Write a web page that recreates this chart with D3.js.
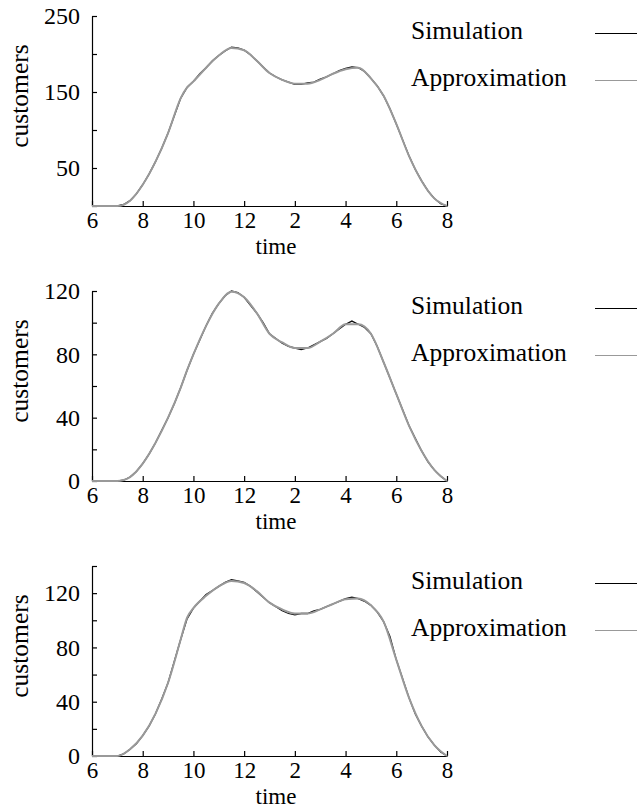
<!DOCTYPE html>
<html>
<head>
<meta charset="utf-8">
<script src="https://cdn.jsdelivr.net/npm/d3@7"></script>
<style>
  body { margin: 0; background: #fff; }
  text { font-family: "Liberation Serif", "DejaVu Serif", serif; fill: #000; }
</style>
</head>
<body>
<div id="chart"></div>
<script>
// HOURS OF THE DAY (6 = 6am ... 20 = 8pm)
var approxHours = [6, 7, 7.5, 8, 8.5, 9, 9.5, 9.75, 10, 10.5, 11, 11.5, 12, 12.5, 13, 13.5,
  14, 14.5, 15, 15.5, 16, 16.5, 17, 17.5, 18, 18.5, 19, 19.5, 20];

var simHours = [6, 6.25, 6.5, 6.75, 7, 7.25, 7.5, 7.75, 8, 8.25, 8.5, 8.75, 9, 9.25, 9.5, 9.75,
  10, 10.25, 10.5, 10.75, 11, 11.25, 11.5, 11.75, 12, 12.25, 12.5, 12.75, 13, 13.25, 13.5, 13.75,
  14, 14.25, 14.5, 14.75, 15, 15.25, 15.5, 15.75, 16, 16.25, 16.5, 16.75, 17, 17.25, 17.5, 17.75,
  18, 18.25, 18.5, 18.75, 19, 19.25, 19.5, 19.75, 20];

// X TICKS
var xTicks = [6, 8, 10, 12, 14, 16, 18, 20];
var xTickLabels = ["6", "8", "10", "12", "2", "4", "6", "8"];

// PANEL 1
var approx1 = [0, 0, 7, 28, 58, 96, 142, 156, 164, 182, 198, 208, 205, 191, 175, 166,
  161, 161, 166, 174, 180, 182, 168, 145, 108, 66, 33, 10, 0];
var sim1 = [0, 0, 0, 0, 0, 2, 7, 16, 28, 42, 58, 76, 96, 119, 142, 156,
  164, 174, 182, 191, 198, 204, 209, 208, 205, 199, 191, 183, 175, 170, 166, 163,
  160, 160, 162, 163, 167, 170, 174, 178, 181, 183, 182, 177, 168, 158, 145, 128,
  108, 87, 66, 48, 33, 20, 10, 3, 0];
var yTicks1 = [0, 50, 100, 150, 200, 250];
var yTickLabels1 = ["", "50", "", "150", "", "250"];

// PANEL 2
var approx2 = [0, 0, 2.5, 11, 24, 40, 59, 70, 80, 98, 112, 119.5, 116, 106, 93, 87.5,
  84, 84, 88, 93, 99, 99, 93, 75, 55, 35, 19, 7, 0];
var sim2 = [0, 0, 0, 0, 0, 0.5, 2.5, 6, 11, 17, 24, 32, 40, 49, 59, 70,
  80, 89, 98, 106, 112, 117, 120, 119, 116, 111, 106, 100, 93, 90, 87, 85,
  84, 83, 84, 86, 88, 90, 93, 96, 99, 101, 99, 97, 93, 85, 75, 65,
  55, 45, 35, 27, 19, 12, 7, 3, 0];
var yTicks2 = [0, 20, 40, 60, 80, 100, 120];
var yTickLabels2 = ["0", "", "40", "", "80", "", "120"];

// PANEL 3
var approx3 = [0, 0, 5, 15, 31, 54, 86, 102, 109, 118, 125, 129, 127.5, 121.5, 113, 108,
  105, 105, 108, 112, 115.5, 116, 111, 99, 71, 43, 22, 8, 0];
var sim3 = [0, 0, 0, 0, 0, 1.5, 5, 9, 15, 22, 31, 42, 54, 70, 86, 101,
  109, 114, 119, 122, 125, 128, 130, 129, 128, 125, 121, 117, 113, 110, 107, 105,
  104, 105, 105, 107, 108, 110, 112, 114, 116, 117, 116, 114, 111, 106, 99, 88,
  71, 57, 43, 31, 22, 14, 8, 3, 0];
var yTicks3 = [0, 20, 40, 60, 80, 100, 120, 140];
var yTickLabels3 = ["0", "", "40", "", "80", "", "120", ""];

var panels = [
  { top: 16, yMax: 250, approx: approx1, sim: sim1, ticks: yTicks1, labels: yTickLabels1 },
  { top: 291, yMax: 120, approx: approx2, sim: sim2, ticks: yTicks2, labels: yTickLabels2 },
  { top: 566, yMax: 140, approx: approx3, sim: sim3, ticks: yTicks3, labels: yTickLabels3 }
];

// SET UP CHART
var svgWidth = 637;
var svgHeight = 811;
var left = 92;
var chartWidth = 355;
var chartHeight = 190;

var svg = d3.select("#chart")
  .append("svg")
  .attr("width", svgWidth)
  .attr("height", svgHeight);

var xScale = d3.scaleLinear()
  .domain([6, 20])
  .range([0, chartWidth]);

panels.forEach(function(p) {

  var chartGroup = svg.append("g")
    .attr("transform", `translate(${left}, ${p.top})`);

  var yScale = d3.scaleLinear()
    .domain([0, p.yMax])
    .range([chartHeight, 0]);

  // AXES (ticks point inward)
  var bottomAxis = d3.axisBottom(xScale)
    .tickValues(xTicks)
    .tickFormat(function(d, i) { return xTickLabels[i]; })
    .tickSizeInner(-5)
    .tickSizeOuter(0)
    .tickPadding(6);

  var leftAxis = d3.axisLeft(yScale)
    .tickValues(p.ticks)
    .tickFormat(function(d, i) { return p.labels[i]; })
    .tickSizeInner(-5)
    .tickSizeOuter(0)
    .tickPadding(12);

  var xAxisGroup = chartGroup.append("g")
    .attr("transform", `translate(0, ${chartHeight})`)
    .call(bottomAxis);

  var yAxisGroup = chartGroup.append("g")
    .call(leftAxis);

  xAxisGroup.selectAll(".tick text")
    .style("font-size", "23px");
  yAxisGroup.selectAll(".tick text")
    .style("font-size", "24px");
  chartGroup.selectAll(".tick text")
    .style("font-family", "'Liberation Serif', serif")
    .attr("fill", "#000");
  chartGroup.selectAll(".domain, .tick line")
    .attr("stroke", "#000")
    .attr("stroke-width", 1.2);

  // LINES
  var simLine = d3.line()
    .x(function(d, i) { return xScale(simHours[i]); })
    .y(function(d) { return yScale(d); });

  var approxLine = d3.line()
    .x(function(d, i) { return xScale(approxHours[i]); })
    .y(function(d) { return yScale(d); })
    .curve(d3.curveMonotoneX);

  chartGroup.append("path")
    .datum(p.sim)
    .attr("d", simLine)
    .attr("fill", "none")
    .attr("stroke", "#111")
    .attr("stroke-width", 1.3);

  chartGroup.append("path")
    .datum(p.approx)
    .attr("d", approxLine)
    .attr("fill", "none")
    .attr("stroke", "#999")
    .attr("stroke-width", 2);

  // AXIS LABELS
  chartGroup.append("text")
    .attr("x", 184)
    .attr("y", chartHeight + 48)
    .attr("text-anchor", "middle")
    .style("font-size", "23px")
    .text("time");

  svg.append("text")
    .attr("transform", `translate(28, ${p.top + 80}) rotate(-90)`)
    .attr("text-anchor", "middle")
    .style("font-size", "25.5px")
    .text("customers");

  // LEGEND
  var legend = [
    { name: "Simulation", color: "#000", dy: 17 },
    { name: "Approximation", color: "#999", dy: 64 }
  ];

  legend.forEach(function(l) {
    svg.append("text")
      .attr("x", 411)
      .attr("y", p.top + l.dy + 6)
      .style("font-size", "25.5px")
      .text(l.name);
    svg.append("line")
      .attr("x1", 595)
      .attr("x2", 640)
      .attr("y1", p.top + l.dy + 0.5)
      .attr("y2", p.top + l.dy + 0.5)
      .attr("stroke", l.color)
      .attr("stroke-width", 1);
  });
});
</script>
</body>
</html>
